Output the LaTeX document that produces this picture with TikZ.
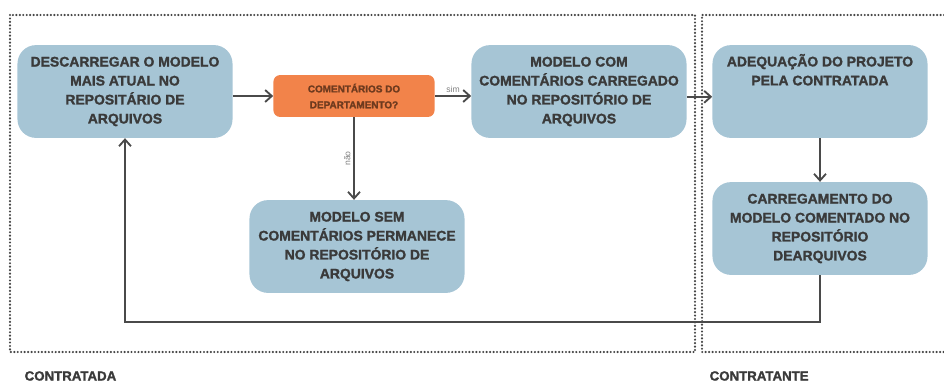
\documentclass[tikz,border=0pt]{standalone}
\usepackage{fontspec}
\setmainfont{Liberation Sans}[BoldFeatures={FakeBold=1.6}]
\usetikzlibrary{arrows.meta,positioning}
\definecolor{boxblue}{HTML}{A6C5D5}
\definecolor{deporange}{HTML}{F2834A}
\definecolor{txtgray}{HTML}{3A3A3A}
\definecolor{deptxt}{HTML}{6E3A1E}
\definecolor{linegray}{HTML}{4A4A4A}

\begin{document}
\begin{tikzpicture}[x=0.0265cm,y=-0.0265cm,
    task/.style={rounded corners=14pt,fill=boxblue,minimum width=5.7cm,minimum height=2.46cm,inner sep=0pt,align=center,text=txtgray,font=\bfseries\fontsize{10.5}{14.3}\selectfont},
    query/.style={rounded corners=5pt,fill=deporange,minimum width=4.27cm,minimum height=1.11cm,inner sep=0pt,align=center,text=deptxt,font=\bfseries\fontsize{7.5}{12}\selectfont},
    flow/.style={-{Straight Barb[length=5pt,width=9pt]},line width=1.4pt,linegray},
    lane/.style={dash pattern=on 0pt off 2.6pt,line cap=round,line width=1.8pt,gray!55!black},
    lanelabel/.style={anchor=west,text=txtgray,font=\bfseries\fontsize{10}{12}\selectfont},
    answer/.style={text=gray,font=\fontsize{6.5}{8}\selectfont,inner sep=2pt}
  ]
    \useasboundingbox (0,0) rectangle (944,382);

    % Lanes
    \draw[lane] (10,15) rectangle (695,352);
    \draw[lane] (944,15) -- (702,15) -- (702,352) -- (944,352);
    \node[lanelabel] (contratada) at (20,376) {CONTRATADA};
    \node[lanelabel] (contratante) at (705,376) {CONTRATANTE};

    % Contratada
    \node[task] (baixar) at (125,91.5) {DESCARREGAR O MODELO\\MAIS ATUAL NO\\REPOSITÁRIO DE\\ARQUIVOS};
    \node[query] (coment) at (354,96) {COMENTÁRIOS DO\\DEPARTAMENTO?};
    \node[task] (comcom) at (579,91.5) {MODELO COM\\COMENTÁRIOS CARREGADO\\NO REPOSITÓRIO DE\\ARQUIVOS};
    \node[task] (semcom) at (357,246.5) {MODELO SEM\\COMENTÁRIOS PERMANECE\\NO REPOSITÓRIO DE\\ARQUIVOS};

    % Contratante
    \node[task] (adequa) at (820,91.5) {ADEQUAÇÃO DO PROJETO\\PELA CONTRATADA\\\strut\\\strut};
    \node[task] (carrega) at (820,228.5) {CARREGAMENTO DO\\MODELO COMENTADO NO\\REPOSITÓRIO\\DEARQUIVOS};

    % Arrows
    \draw[flow] (baixar.east |- coment.west) -- (coment.west);
    \draw[flow] (coment.east) -- node[answer,above] {sim} (comcom.west |- coment.east);
    \draw[flow] (coment.south) -- node[answer,anchor=south,rotate=90] {não} (coment.south |- semcom.north);
    \draw[flow] ([yshift=-4pt]comcom.east) -- ([yshift=-4pt]adequa.west);
    \draw[flow] (adequa.south) -- (carrega.north);
    \coordinate (volta) at (125,322);
    \draw[flow] (carrega.south) |- (volta) -- (baixar.south);
  \end{tikzpicture}
\end{document}
